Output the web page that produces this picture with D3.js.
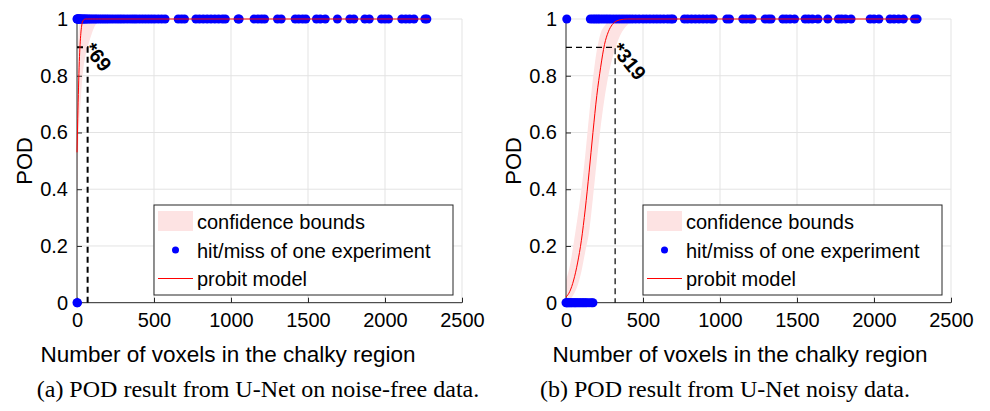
<!DOCTYPE html>
<html>
<head>
<meta charset="utf-8">
<script src="https://cdn.jsdelivr.net/npm/d3@7"></script>
<style>
body { margin: 0; background: #fff; }
svg text { font-family: "Liberation Sans", Arial, sans-serif; fill: #000; }
.caption { font-family: "Liberation Serif", "DejaVu Serif", serif; }
</style>
</head>
<body>
<svg id="chart" width="990" height="411"></svg>
<script>
const xTicks = [0, 500, 1000, 1500, 2000, 2500];
const yTicks = [0, 0.2, 0.4, 0.6, 0.8, 1];
const yTickLabels = ["0", "0.2", "0.4", "0.6", "0.8", "1"];
const legendLabels = ["confidence bounds", "hit/miss of one experiment", "probit model"];
const xTitle = "Number of voxels in the chalky region";
const yTitle = "POD";
const captions = ["(a) POD result from U-Net on noise-free data.", "(b) POD result from U-Net noisy data."];

// panel a: noise-free
const gridA = [0, 5, 10, 15, 20, 25, 30, 40, 55, 69, 85, 100, 120, 140, 160, 2290];
const fitA = [0.53, 0.65, 0.76, 0.85, 0.91, 0.95, 0.975, 0.995, 1, 1, 1, 1, 1, 1, 1, 1];
const upperA = [0.75, 0.88, 0.95, 0.98, 0.993, 0.998, 1, 1, 1, 1, 1, 1, 1, 1, 1, 1];
const lowerA = [0.30, 0.45, 0.58, 0.63, 0.68, 0.72, 0.76, 0.82, 0.87, 0.90, 0.93, 0.955, 0.98, 0.993, 1, 1];
const hitsA = [0, 2, 5, 8, 12, 15, 20, 25, 30, 38, 45, 52, 60, 70, 80, 92, 105, 118, 130, 145, 160, 175, 190, 205,
    222, 240, 258, 275, 292, 310, 330, 350, 368, 385, 405, 425, 445, 465, 485, 505, 528, 550, 572,
    657, 678, 698, 772, 795, 820, 845, 870, 895, 920, 945, 963, 1046, 1053,
    1150, 1175, 1198, 1218, 1302, 1326, 1417, 1440, 1465, 1486, 1555, 1580, 1612, 1691,
    1772, 1798, 1869, 1898, 1977, 2000, 2023, 2109, 2135, 2160, 2188, 2259, 2272];
const missesA = [0, 3];
const a90A = 69;

// panel b: noisy
const gridB = [0, 25, 50, 75, 100, 125, 150, 175, 200, 225, 250, 275, 300, 325, 350, 400, 450, 500, 2290];
const fitB = [0.02, 0.04, 0.08, 0.14, 0.22, 0.33, 0.46, 0.60, 0.73, 0.83, 0.91, 0.955, 0.98, 0.992, 0.997, 1, 1, 1, 1];
const upperB = [0.08, 0.13, 0.21, 0.30, 0.40, 0.52, 0.66, 0.79, 0.89, 0.95, 0.975, 0.99, 0.997, 1, 1, 1, 1, 1, 1];
const lowerB = [0.0, 0.01, 0.03, 0.06, 0.11, 0.18, 0.25, 0.37, 0.50, 0.62, 0.72, 0.80, 0.86, 0.905, 0.94, 0.98, 0.995, 1, 1];
const hitsB = [5, 158, 175, 190, 205, 220, 238, 255, 272, 290, 310, 330, 350, 370, 390, 410, 430, 452, 475, 500,
    522, 545, 568, 590, 612, 635, 660, 680, 694, 769, 790, 815, 840, 865, 890, 915, 940, 956,
    1044, 1062, 1148, 1170, 1195, 1209, 1293, 1315, 1332, 1408, 1430, 1455, 1484,
    1553, 1575, 1600, 1636, 1700, 1769, 1790, 1815, 1851, 1975, 2000, 2032,
    2104, 2130, 2160, 2191, 2263, 2280];
const missesB = [0, 5, 10, 18, 25, 33, 40, 50, 58, 65, 75, 85, 95, 105, 115, 125, 135, 150, 165, 175];
const a90B = 319;

const panels = [
    { left: 77, grid: gridA, fit: fitA, upper: upperA, lower: lowerA, hits: hitsA, misses: missesA, a90: a90A,
      dashW: 2, caption: captions[0], titleX: 228, capX: 258 },
    { left: 566, grid: gridB, fit: fitB, upper: upperB, lower: lowerB, hits: hitsB, misses: missesB, a90: a90B,
      dashW: 1.2, caption: captions[1], titleX: 740, capX: 725 }
];

const PW = 385, TOP = 19, BOTTOM = 302.7;
const svg = d3.select("#chart");

panels.forEach(p => {
    const x = d3.scaleLinear().domain([0, 2500]).range([p.left, p.left + PW]);
    const y = d3.scaleLinear().domain([0, 1]).range([BOTTOM, TOP]);
    const g = svg.append("g");

    // grid
    g.selectAll(".gx").data(xTicks.slice(1)).join("line")
        .attr("x1", d => x(d)).attr("x2", d => x(d)).attr("y1", TOP).attr("y2", BOTTOM)
        .attr("stroke", "#e3e3e3").attr("stroke-width", 1);
    g.selectAll(".gy").data(yTicks.slice(1)).join("line")
        .attr("x1", p.left).attr("x2", p.left + PW).attr("y1", d => y(d)).attr("y2", d => y(d))
        .attr("stroke", "#e3e3e3").attr("stroke-width", 1);

    // confidence band
    const rows = p.grid.map((v, i) => ({ x: v, f: p.fit[i], u: p.upper[i], l: p.lower[i] }));
    g.append("path").datum(rows)
        .attr("fill", "#fde3e3")
        .attr("d", d3.area().x(d => x(d.x)).y0(d => y(d.l)).y1(d => y(d.u)).curve(d3.curveMonotoneX));

    // axes
    const xAxis = d3.axisBottom(x).tickValues(xTicks).tickSize(-5).tickPadding(10).tickFormat(d3.format("d"));
    const ax = g.append("g").attr("transform", `translate(0,${BOTTOM})`).call(xAxis);
    const yAxis = d3.axisLeft(y).tickValues(yTicks).tickSize(-5).tickPadding(9).tickFormat((d, i) => yTickLabels[i]);
    const ay = g.append("g").attr("transform", `translate(${p.left},0)`).call(yAxis);
    [ax, ay].forEach(a => {
        a.select(".domain").attr("stroke", "#262626").attr("stroke-width", 1);
        a.selectAll(".tick line").attr("stroke", "#262626");
        a.selectAll(".tick text").attr("font-size", 20).attr("fill", "#262626")
            .attr("font-family", "Liberation Sans, Arial, sans-serif");
    });
    ay.select(".domain").attr("d", `M0,${BOTTOM}V${TOP}`);
    ax.select(".domain").attr("d", `M${p.left},0H${p.left + PW}`);

    // a90 dashed marker
    g.append("path")
        .attr("d", `M${p.left},${y(0.9)}H${x(p.a90)}V${BOTTOM}`)
        .attr("fill", "none").attr("stroke", "#000").attr("stroke-width", p.dashW)
        .attr("stroke-dasharray", "6,4");

    // points
    g.selectAll(".hit").data(p.hits).join("circle")
        .attr("cx", d => x(d)).attr("cy", y(1)).attr("r", 4.5).attr("fill", "#0000ff");
    g.selectAll(".miss").data(p.misses).join("circle")
        .attr("cx", d => x(d)).attr("cy", y(0)).attr("r", 4.5).attr("fill", "#0000ff");

    // probit curve
    g.append("path").datum(rows)
        .attr("fill", "none").attr("stroke", "#ff0000").attr("stroke-width", 1)
        .attr("d", d3.line().x(d => x(d.x)).y(d => y(d.f)).curve(d3.curveMonotoneX));

    // a90 label
    g.append("text")
        .attr("transform", `translate(${x(p.a90) + 1},${y(0.9) - 2}) rotate(51)`)
        .attr("font-size", 20).attr("font-weight", "bold").attr("dy", "0.35em")
        .text("*" + p.a90);

    // titles
    g.append("text")
        .attr("x", p.titleX).attr("y", 362)
        .attr("text-anchor", "middle").attr("font-size", 22.5)
        .text(xTitle);
    g.append("text")
        .attr("transform", `translate(${p.left - 45},${(TOP + BOTTOM) / 2}) rotate(-90)`)
        .attr("text-anchor", "middle").attr("font-size", 22)
        .text(yTitle);

    // legend
    const lx = x(500), ly = 205;
    const lg = g.append("g").attr("transform", `translate(${lx},${ly})`);
    lg.append("rect").attr("width", 299).attr("height", 90)
        .attr("fill", "#fff").attr("stroke", "#262626").attr("stroke-width", 1);
    lg.append("rect").attr("x", 4).attr("y", 6).attr("width", 35).attr("height", 20).attr("fill", "#fde3e3");
    lg.append("circle").attr("cx", 21.5).attr("cy", 45).attr("r", 3.5).attr("fill", "#0000ff");
    lg.append("line").attr("x1", 4).attr("x2", 39).attr("y1", 73.5).attr("y2", 73.5).attr("stroke", "#ff0000");
    lg.selectAll(".lt").data(legendLabels).join("text")
        .attr("x", 43).attr("y", (d, i) => 17 + i * 28.5).attr("dy", "0.35em")
        .attr("font-size", 20).text(d => d);

    // caption
    svg.append("text").attr("class", "caption")
        .attr("x", p.capX).attr("y", 397)
        .attr("text-anchor", "middle").attr("font-size", 24)
        .text(p.caption);
});
</script>
</body>
</html>
